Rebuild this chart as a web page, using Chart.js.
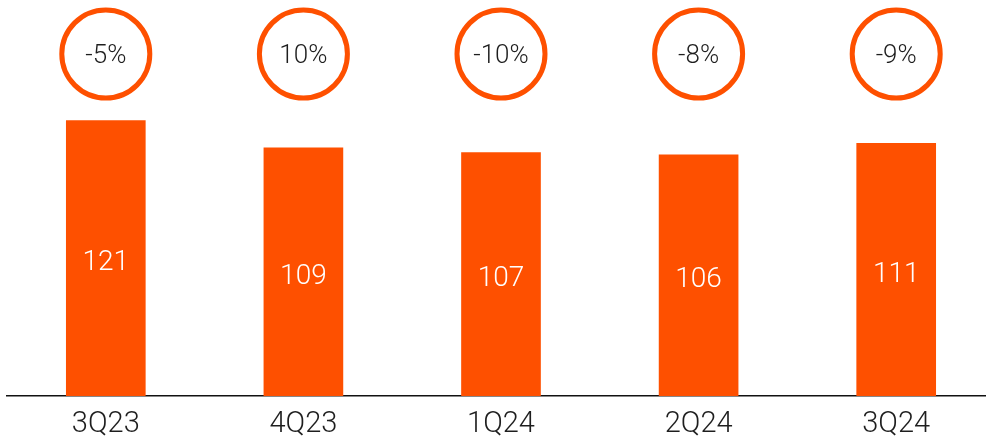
<!DOCTYPE html>
<html>
<head>
<meta charset="utf-8">
<script src="https://cdn.jsdelivr.net/npm/chart.js@4.4.1/dist/chart.umd.min.js"></script>
<style>
  html, body { margin: 0; padding: 0; background: #fff; overflow: hidden; }
  #wrap { position: relative; width: 995px; height: 439px; }
</style>
</head>
<body>
<div id="wrap"><canvas id="myChart"></canvas></div>
<script>
const quarters = ['3Q23', '4Q23', '1Q24', '2Q24', '3Q24'];
const volumes = [121, 109, 107, 106, 111];
const changes = ['-5%', '10%', '-10%', '-8%', '-9%'];

const orange = '#fe5000';
const ink = '#1e1e1e';
const fontFamily = 'Roboto, "Liberation Sans", sans-serif';

// circles with % change on top, white value inside each bar
const barDecor = {
  id: 'barDecor',
  afterDatasetsDraw(chart) {
    const ctx = chart.ctx;
    const meta = chart.getDatasetMeta(0);
    const base = chart.scales.y.getPixelForValue(0);
    ctx.save();
    ctx.textAlign = 'center';
    ctx.textBaseline = 'middle';
    meta.data.forEach((bar, i) => {
      // value
      ctx.fillStyle = '#ffffff';
      ctx.font = '300 28px ' + fontFamily;
      ctx.fillText(String(volumes[i]), bar.x, (bar.y + base) / 2 + 5);
      // ring
      ctx.beginPath();
      ctx.arc(bar.x, 54, 44, 0, Math.PI * 2);
      ctx.lineWidth = 5;
      ctx.strokeStyle = orange;
      ctx.stroke();
      ctx.fillStyle = ink;
      ctx.font = '300 26px ' + fontFamily;
      ctx.fillText(changes[i], bar.x, 56);
    });
    ctx.restore();
  }
};

const data = {
  labels: quarters,
  datasets: [{
    data: volumes,
    backgroundColor: orange,
    borderWidth: 0,
    barThickness: 79
  }]
};

const config = {
  type: 'bar',
  data: data,
  options: {
    responsive: true,
    maintainAspectRatio: false,
    animation: false,
    layout: { padding: { left: 7, right: 0, top: 0, bottom: 0 } },
    plugins: {
      legend: { display: false },
      tooltip: { enabled: false }
    },
    scales: {
      x: {
        grid: { display: false, drawTicks: false },
        border: { display: true, color: '#111', width: 1.5 },
        ticks: {
          color: ink,
          padding: 11,
          font: { family: fontFamily, size: 29, weight: '300' }
        },
        afterFit(scale) { scale.height = 43; }
      },
      y: {
        display: false,
        min: 0,
        max: 174
      }
    }
  },
  plugins: [barDecor]
};

const myChart = new Chart(document.getElementById('myChart'), config);
</script>
</body>
</html>
